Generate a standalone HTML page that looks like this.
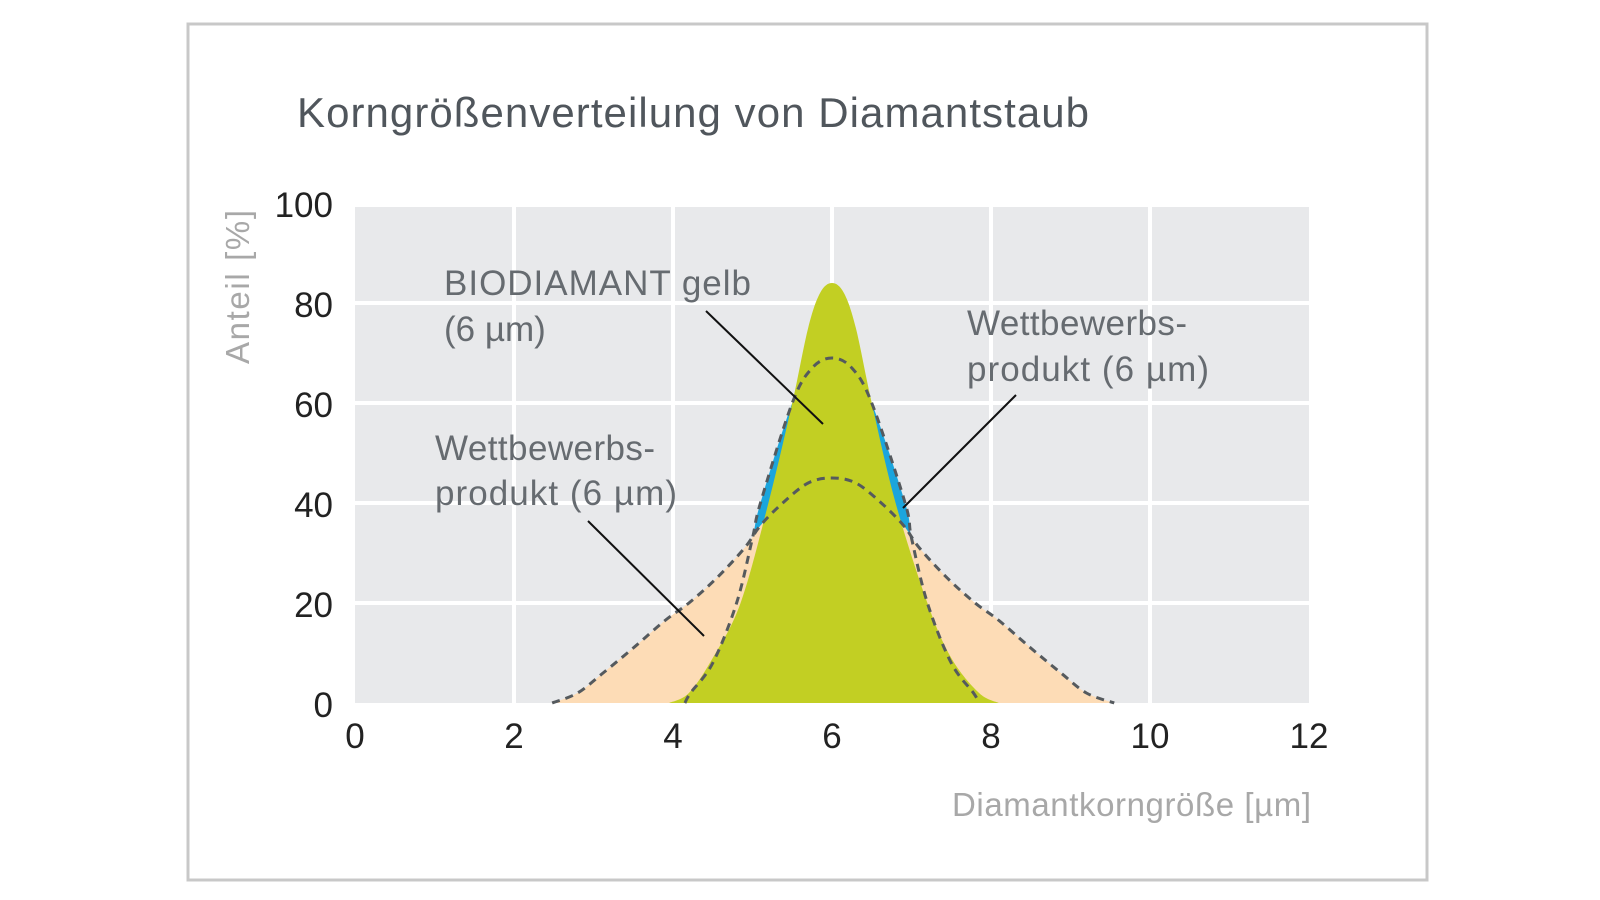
<!DOCTYPE html>
<html><head><meta charset="utf-8"><style>
body{margin:0;background:#fff;}
svg{display:block;font-family:"Liberation Sans",sans-serif;}
</style></head><body>
<svg id="c" width="1600" height="900" viewBox="0 0 1600 900">
<rect x="188" y="24" width="1239" height="856" fill="#fff" stroke="#c8c8c8" stroke-width="3"/>
<text x="297" y="127" font-size="42" fill="#50565c" textLength="792">Korngrößenverteilung von Diamantstaub</text>
<rect x="355" y="207" width="954" height="496" fill="#e8e9eb"/>
<g id="grid"></g>
<g id="series"></g>
<g id="ticks"></g>
<text transform="translate(249,287) rotate(-90)" text-anchor="middle" font-size="33" fill="#a8a8a8" textLength="154">Anteil [%]</text>
<text x="952" y="816" font-size="33" fill="#a8a8a8" textLength="359">Diamantkorngröße [µm]</text>
<g font-size="35" fill="#666b70">
<text x="444" y="295"><tspan x="444" textLength="307">BIODIAMANT gelb</tspan><tspan x="444" y="341">(6 µm)</tspan></text>
<text x="967" y="335"><tspan x="967" textLength="220">Wettbewerbs-</tspan><tspan x="967" y="381" textLength="242">produkt (6 µm)</tspan></text>
<text x="435" y="460"><tspan x="435" textLength="220">Wettbewerbs-</tspan><tspan x="435" y="505" textLength="242">produkt (6 µm)</tspan></text>
</g>
<g stroke="#111" stroke-width="2">
<line x1="706" y1="311" x2="823" y2="424"/>
<line x1="1016" y1="395" x2="903" y2="508"/>
<line x1="588" y1="521" x2="704" y2="636"/>
</g>
</svg>
<script>
const xTicks=[0,2,4,6,8,10,12];
const yTicks=[0,20,40,60,80,100];
const greenX=[3.95,4.2,4.5,4.85,5.2,5.5,5.7,5.85,6.0,6.15,6.3,6.5,6.8,7.2,7.5,7.85,8.1];
const greenY=[0,2,9,20,40,60,75,82,84,82,75,60,40,20,9,2,0];
const narrowX=[4.15,4.22,4.5,4.8,5.0,5.1,5.5,5.75,6.0,6.25,6.5,6.92,7.0,7.2,7.5,7.78,7.85];
const narrowY=[0,2,8,20,33,40,60,67,69,67,60,40,33,20,8,2,0];
const wideX=[2.48,2.8,3.12,3.5,3.9,4.2,4.55,4.9,5.1,5.38,5.7,6.0,6.3,6.62,6.9,7.1,7.45,7.8,8.1,8.5,8.88,9.2,9.55];
const wideY=[0,2,6,11,16.5,20,25,31,35.5,40,44,45,44,40,35.5,31,25,20,16.5,11,6,2,0];
const NS='http://www.w3.org/2000/svg';
const sx=v=>355+79.5*v, sy=v=>703-5*v;
function mk(t,a,p){const e=document.createElementNS(NS,t);for(const k in a)e.setAttribute(k,a[k]);p.appendChild(e);return e;}
const grid=document.getElementById('grid'),ser=document.getElementById('series'),tk=document.getElementById('ticks');
xTicks.slice(1,-1).forEach(v=>{const l=mk('line',{x1:sx(v),x2:sx(v),y1:207,y2:703,stroke:'#fff','stroke-width':4},grid);

});
yTicks.slice(1,-1).forEach(v=>{const l=mk('line',{x1:355,x2:1309,y1:sy(v),y2:sy(v),stroke:'#fff','stroke-width':4},grid);

});
function path(xs,ys){const p=xs.map((x,i)=>[sx(x),sy(ys[i])]);let d='M'+p[0][0]+','+p[0][1];
for(let i=0;i<p.length-1;i++){const p0=p[i-1]||p[i],p1=p[i],p2=p[i+1],p3=p[i+2]||p2;
d+=' C'+(p1[0]+(p2[0]-p0[0])/6)+','+(p1[1]+(p2[1]-p0[1])/6)+' '+(p2[0]-(p3[0]-p1[0])/6)+','+(p2[1]-(p3[1]-p1[1])/6)+' '+p2[0]+','+p2[1];}return d;}
let e;
e=mk('path',{d:path(narrowX,narrowY)+'Z',fill:'#1ba5dd'},ser);


e=mk('path',{d:path(wideX,wideY)+'Z',fill:'#fddcb6'},ser);


e=mk('path',{d:path(greenX,greenY)+'Z',fill:'#c2cf23'},ser);


e=mk('path',{d:path(wideX,wideY),fill:'none',stroke:'#555a5e','stroke-width':3,'stroke-dasharray':'8 6'},ser);


e=mk('path',{d:path(narrowX,narrowY),fill:'none',stroke:'#555a5e','stroke-width':3,'stroke-dasharray':'8 6'},ser);


xTicks.forEach(v=>{const t=mk('text',{x:sx(v),y:748,'text-anchor':'middle','font-size':35,fill:'#222'},tk);t.textContent=v;

});
yTicks.forEach(v=>{const t=mk('text',{x:333,y:sy(v)+14,'text-anchor':'end','font-size':35,fill:'#222'},tk);t.textContent=v;

});
</script>
</body></html>
